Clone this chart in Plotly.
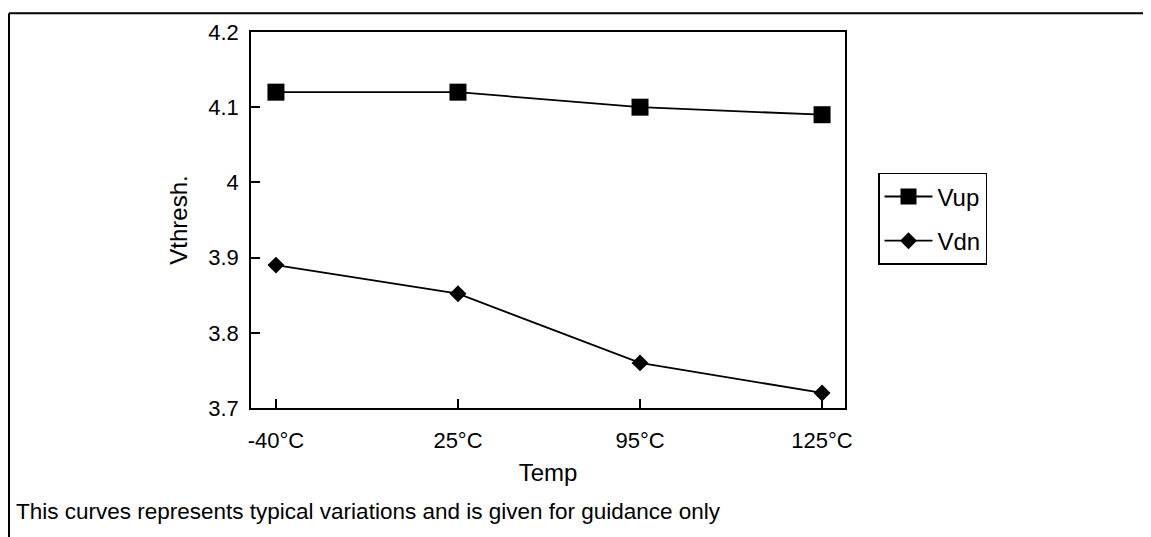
import plotly.graph_objects as go

temps = ["-40°C", "25°C", "95°C", "125°C"]
vup = [4.12, 4.12, 4.10, 4.09]
vdn = [3.89, 3.852, 3.76, 3.72]
y_ticks = [3.7, 3.8, 3.9, 4.0, 4.1, 4.2]
y_tick_text = ["3.7", "3.8", "3.9", "4", "4.1", "4.2"]

# page body has an 8px margin, so work in page pixels minus that offset
OFF = 8
W, H = 1151 - OFF, 537 - OFF
L, R, T, B = 251 - OFF, 845 - OFF, 29 - OFF, 408 - OFF
pw, ph = R - L, B - T


def px_x(x):
    return (x - OFF - L) / pw


def px_y(y):
    return (B - (y - OFF)) / ph


FAM = "Liberation Sans, Arial, sans-serif"
tick_font = dict(family=FAM, size=22, color="black")
title_font = dict(family=FAM, size=24, color="black")

fig = go.Figure()
fig.add_trace(go.Scatter(
    x=temps, y=vup, name="Vup", mode="lines+markers", legendgroup="up",
    line=dict(color="black", width=1.8),
    marker=dict(symbol="square", size=17, color="black"),
))
fig.add_trace(go.Scatter(
    x=temps, y=vdn, name="Vdn", mode="lines+markers", legendgroup="dn",
    line=dict(color="black", width=1.8),
    marker=dict(symbol="diamond", size=13, color="black"),
))

fig.update_layout(
    width=W, height=H,
    margin=dict(l=L, r=W - R, t=T, b=H - B, pad=0),
    paper_bgcolor="white", plot_bgcolor="white",
    font=tick_font,
    showlegend=True,
    legend=dict(
        x=px_x(878), y=px_y(171), xanchor="left", yanchor="top",
        bordercolor="black", borderwidth=1.5, bgcolor="white",
        font=dict(family=FAM, size=24, color="black"),
        itemwidth=48, tracegroupgap=10,
    ),
    xaxis=dict(
        type="category", range=[-0.137, 3.126],
        showline=True, linecolor="black", linewidth=1.5, mirror=True,
        ticks="inside", ticklen=9, tickcolor="black", tickwidth=1.5,
        showgrid=False, zeroline=False,
        title=dict(text="Temp", font=title_font, standoff=12),
        tickfont=tick_font, ticklabelstandoff=12,
    ),
    yaxis=dict(
        range=[3.7, 4.2], tickvals=y_ticks, ticktext=y_tick_text,
        showline=True, linecolor="black", linewidth=1.5, mirror=True,
        ticks="inside", ticklen=9, tickcolor="black", tickwidth=1.5,
        showgrid=False, zeroline=False,
        title=dict(text="Vthresh.", font=title_font, standoff=14),
        tickfont=tick_font, ticklabelstandoff=6,
    ),
    shapes=[
        dict(type="line", xref="paper", yref="paper",
             x0=px_x(9), x1=px_x(1160), y0=px_y(10), y1=px_y(10),
             line=dict(color="black", width=2)),
        dict(type="line", xref="paper", yref="paper",
             x0=px_x(9), x1=px_x(9), y0=px_y(10), y1=px_y(545),
             line=dict(color="black", width=2)),
    ],
    annotations=[
        dict(text="This curves represents typical variations and is given for guidance only",
             xref="paper", yref="paper", x=px_x(14), y=px_y(512),
             xanchor="left", yanchor="middle", showarrow=False,
             font=dict(family=FAM, size=22.5, color="black")),
    ],
)

fig.write_html("out.html")
